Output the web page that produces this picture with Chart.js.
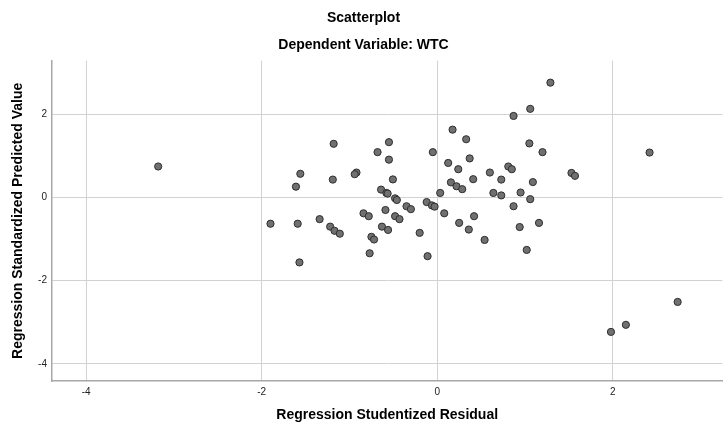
<!DOCTYPE html>
<html>
<head>
<meta charset="utf-8">
<script src="https://cdn.jsdelivr.net/npm/chart.js@4/dist/chart.umd.min.js"></script>
<style>
  html, body { margin: 0; padding: 0; background: #fff; }
  canvas { display: block; }
</style>
</head>
<body>
<canvas id="chart" width="727" height="431"></canvas>
<script>
// Regression Studentized Residual (x) vs Regression Standardized Predicted Value (y)
const residuals = [
  -3.18, 0.175, 0.33, -1.18, -0.55, -0.68, -0.05, -0.55, 0.37, 0.125,
  0.24, -1.56, -0.92, -0.94, 0.41, -1.19, -0.505, -1.61, 0.156, 0.22,
  0.285, -0.64, -0.58, -0.565, 0.034, -0.48, -0.46, -0.35, -0.30, -0.12,
  -0.06, -0.03, -0.59, -0.84, -0.78, -0.48, -0.43, 0.08, 0.42, -1.34,
  0.25, -1.90, -1.59, -1.57, -1.22, -1.17, -1.11, -0.63, -0.56, -0.75,
  -0.72, -0.77, -0.20, -0.11, 0.36, 1.29, 1.06, 0.87, 1.05, 1.20,
  0.81, 0.85, 0.60, 1.53, 1.57, 0.73, 1.09, 0.64, 0.73, 0.95,
  1.06, 0.87, 2.42, 0.54, 0.94, 1.16, 1.02, 2.74, 2.15, 1.98
];
const predicted = [
  0.745, 1.63, 1.40, 1.29, 1.33, 1.09, 1.09, 0.91, 0.94, 0.83,
  0.68, 0.57, 0.60, 0.56, 0.44, 0.43, 0.435, 0.26, 0.364, 0.27,
  0.20, 0.19, 0.11, 0.095, 0.11, -0.02, -0.06, -0.21, -0.28, -0.11,
  -0.19, -0.22, -0.30, -0.38, -0.45, -0.45, -0.52, -0.38, -0.45, -0.52,
  -0.61, -0.63, -0.63, -1.56, -0.70, -0.80, -0.87, -0.70, -0.78, -0.945,
  -1.01, -1.34, -0.85, -1.41, -0.77, 2.76, 2.13, 1.96, 1.30, 1.09,
  0.745, 0.68, 0.60, 0.59, 0.52, 0.43, 0.37, 0.11, 0.05, 0.12,
  -0.04, -0.21, 1.08, -1.02, -0.71, -0.61, -1.26, -2.51, -3.06, -3.23
];
const xRange = [-4.39, 3.25];
const yRange = [-4.41, 3.29];
const tickStep = 2;

const points = residuals.map((x, i) => ({ x: x, y: predicted[i] }));

const tickFont = { family: 'Liberation Sans, Arial, sans-serif', size: 10 };
const titleFont = { family: 'Liberation Sans, Arial, sans-serif', size: 14, weight: 'bold' };

new Chart(document.getElementById('chart'), {
  type: 'scatter',
  data: {
    datasets: [{
      data: points,
      pointRadius: 3.6,
      pointHoverRadius: 3.6,
      pointBackgroundColor: '#707070',
      pointBorderColor: '#2e2e2e',
      pointBorderWidth: 1
    }]
  },
  options: {
    responsive: false,
    animation: false,
    layout: { padding: 0 },
    plugins: {
      legend: { display: false },
      tooltip: { enabled: false },
      title: {
        display: true,
        text: 'Scatterplot',
        color: '#000',
        font: titleFont,
        padding: { top: 10, bottom: 8 }
      },
      subtitle: {
        display: true,
        text: 'Dependent Variable: WTC',
        color: '#000',
        font: titleFont,
        padding: { top: 2, bottom: 7 }
      }
    },
    scales: {
      x: {
        type: 'linear',
        min: xRange[0],
        max: xRange[1],
        afterFit: s => { s.height = 50; },
        ticks: { stepSize: tickStep, includeBounds: false, color: '#222', font: tickFont, padding: 5 },
        grid: { color: '#d2d2d2', lineWidth: 1, drawTicks: false },
        border: { display: true, color: '#a8a8a8', width: 1.5 },
        title: {
          display: true,
          text: 'Regression Studentized Residual',
          color: '#000',
          font: titleFont,
          padding: { top: 0, bottom: 7.6 }
        }
      },
      y: {
        type: 'linear',
        min: yRange[0],
        max: yRange[1],
        afterFit: s => { s.width = 52; },
        ticks: { stepSize: tickStep, includeBounds: false, color: '#222', font: tickFont, padding: 5 },
        grid: { color: '#d2d2d2', lineWidth: 1, drawTicks: false },
        border: { display: true, color: '#a8a8a8', width: 1.5 },
        title: {
          display: true,
          text: 'Regression Standardized Predicted Value',
          color: '#000',
          font: titleFont,
          padding: { top: 9.6, bottom: 0 }
        }
      }
    }
  }
});
</script>
</body>
</html>
